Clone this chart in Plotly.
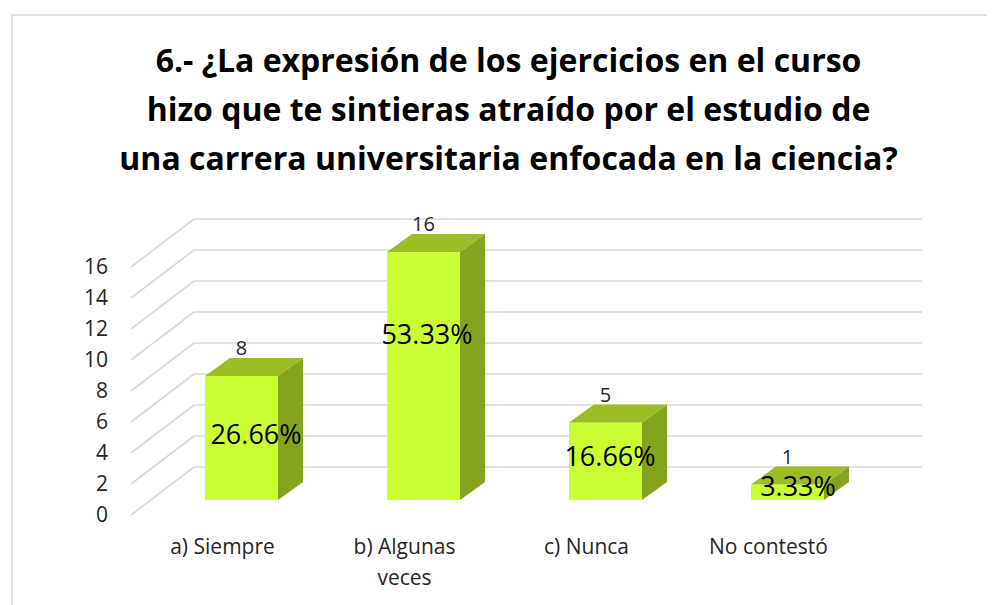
import plotly.graph_objects as go

categories = ["a) Siempre", "b) Algunas<br>veces", "c) Nunca", "No contestó"]
values = [8, 16, 5, 1]
percents = ["26.66%", "53.33%", "16.66%", "3.33%"]
y_ticks = [0, 2, 4, 6, 8, 10, 12, 14, 16]
title_lines = [
    "6.- ¿La expresión de los ejercicios en el curso",
    "hizo que te sintieras atraído por el estudio de",
    "una carrera universitaria enfocada en la ciencia?",
]

OFF = 8             # the page's own margin around the figure
W, H = 995 - OFF, 605 - OFF
CAT_PX = 182.0      # pixels per category
UNIT_PX = 15.5      # pixels per value unit
X0_PX, Y0_PX = 241.5 - OFF, 500.0 - OFF

def xr(shift=0.0):
    return [(0 - X0_PX - shift) / CAT_PX, (W - X0_PX - shift) / CAT_PX]

def yr(shift=0.0):
    return [(Y0_PX + shift - H) / UNIT_PX, (Y0_PX + shift) / UNIT_PX]

BW = 73 / CAT_PX
DX = 25 / CAT_PX
DY = 18 / UNIT_PX

FRONT, SIDE, TOP = "#CCFF33", "#84A31F", "#9DBD25"
GRID = "#D9D9D9"
TXT = "#262626"
FONT = "Open Sans, sans-serif"

idx = list(range(len(values)))
fig = go.Figure()

fig.add_trace(go.Bar(x=idx, y=values, width=BW, marker=dict(color=FRONT, line=dict(width=0)),
                     showlegend=False, hoverinfo="skip"))

for i, v in zip(idx, values):
    l, r = i - BW / 2, i + BW / 2
    fig.add_trace(go.Scatter(x=[r, r + DX, r + DX, r, r], y=[0, DY, v + DY, v, 0], mode="lines",
                             fill="toself", fillcolor=SIDE, line=dict(width=0), showlegend=False, hoverinfo="skip"))
    fig.add_trace(go.Scatter(x=[l, r, r + DX, l + DX, l], y=[v, v, v + DY, v + DY, v], mode="lines",
                             fill="toself", fillcolor=TOP, line=dict(width=0), showlegend=False, hoverinfo="skip"))

# value labels above each box
fig.add_trace(go.Scatter(x=idx, y=[v + 26 / UNIT_PX for v in values], mode="text",
                         text=[str(v) for v in values], textposition="middle center",
                         textfont=dict(family=FONT, size=20, color=TXT), showlegend=False, hoverinfo="skip"))

# percentage labels, hand placed in the original chart
pct_dx = [14.5, 3.5, 4.5, 10.5]
pct_px = [437, 337, 459, 489]
fig.add_trace(go.Scatter(x=[i + d / CAT_PX for i, d in zip(idx, pct_dx)],
                         y=[(500 - p) / UNIT_PX for p in pct_px], mode="text",
                         text=percents, textposition="middle center",
                         textfont=dict(family=FONT, size=27, color="#000000"), showlegend=False, hoverinfo="skip"))

# carrier for the axes that hold the tick labels
fig.add_trace(go.Scatter(x=idx, y=values, xaxis="x2", yaxis="y2", mode="markers",
                         marker=dict(opacity=0), showlegend=False, hoverinfo="skip"))

shapes = []
back = 33 / UNIT_PX
front = -15 / UNIT_PX
x_back_l = (194 - 241.5) / CAT_PX
x_back_r = (922 - 241.5) / CAT_PX
x_front_l = (131 - 241.5) / CAT_PX
for t in y_ticks:
    shapes.append(dict(type="line", xref="x", yref="y", layer="below", x0=x_back_l, x1=x_back_r,
                       y0=t + back, y1=t + back, line=dict(color=GRID, width=1.6)))
    shapes.append(dict(type="line", xref="x", yref="y", layer="below", x0=x_front_l, x1=x_back_l,
                       y0=t + front, y1=t + back, line=dict(color=GRID, width=1.6)))
shapes.append(dict(type="rect", xref="paper", yref="paper", layer="below",
                   x0=(12 - OFF) / W, x1=1.2, y0=-0.2, y1=1 - (15 - OFF) / H,
                   line=dict(color="#E0E0E0", width=2)))

title_text = "<br>".join(f'<span style="font-size:32px">{s}</span>' for s in title_lines)
tick_text = [
    "<br>".join(f'<span style="font-size:21px">{part}</span>' for part in c.split("<br>"))
    for c in categories
]

fig.update_layout(
    width=W, height=H, margin=dict(l=0, r=0, t=0, b=0), autosize=False,
    paper_bgcolor="white", plot_bgcolor="rgba(0,0,0,0)", showlegend=False,
    title=dict(text=title_text, x=(508.5 - OFF) / W, xanchor="center", xref="paper", yref="paper",
               y=1 - 64 / H, yanchor="top", font=dict(family=FONT, size=37.7, color="#000000", weight="bold")),
    xaxis=dict(range=xr(), visible=False, domain=[0, 1]),
    yaxis=dict(range=yr(), visible=False, domain=[0, 1]),
    xaxis2=dict(range=xr(-19), overlaying="x", anchor="free", position=1 - (529 - OFF) / H, side="bottom",
                tickmode="array", tickvals=idx, ticktext=tick_text, showgrid=False, showline=False,
                ticks="", zeroline=False, tickfont=dict(family=FONT, size=24, color=TXT)),
    yaxis2=dict(range=yr(15), overlaying="y", anchor="free", position=(108 - OFF) / W, side="left",
                tickmode="array", tickvals=y_ticks, showgrid=False, showline=False, ticks="",
                zeroline=False, tickfont=dict(family=FONT, size=21, color=TXT)),
    shapes=shapes,
)

fig.write_html("out.html")
